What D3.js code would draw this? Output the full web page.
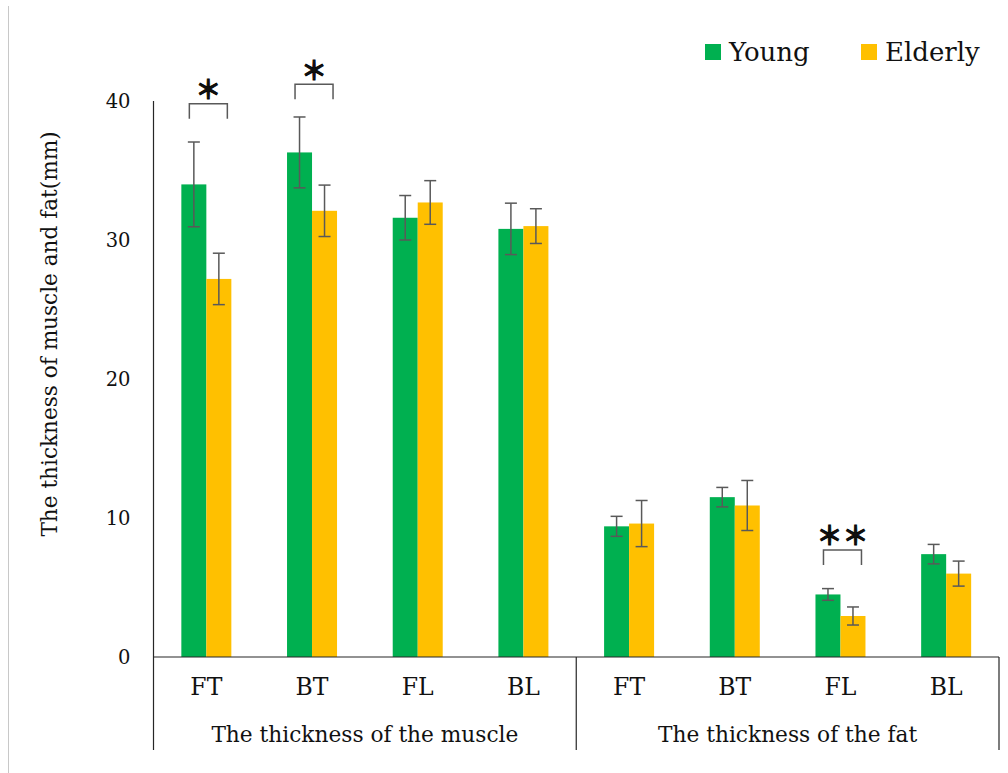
<!DOCTYPE html>
<html>
<head>
<meta charset="utf-8">
<script src="https://cdn.jsdelivr.net/npm/d3@7"></script>
<style>
  html, body { margin: 0; padding: 0; background: #fff; }
  svg { display: block; }
  text { font-family: "DejaVu Serif", "Liberation Serif", serif; fill: #111; }
</style>
</head>
<body>
<svg id="chart" width="1008" height="773"></svg>
<script>
// Measurement sites and the tissue group each belongs to
const sites = ["FT", "BT", "FL", "BL", "FT", "BT", "FL", "BL"];
const groups = ["The thickness of the muscle", "The thickness of the fat"];
const groupOf = [0, 0, 0, 0, 1, 1, 1, 1];

// Mean thickness (mm) and standard deviation per site
const young = [34.0, 36.3, 31.6, 30.8, 9.4, 11.5, 4.5, 7.4];
const youngSD = [3.05, 2.55, 1.6, 1.85, 0.72, 0.7, 0.42, 0.7];
const elderly = [27.2, 32.1, 32.7, 31.0, 9.6, 10.9, 2.95, 6.0];
const elderlySD = [1.85, 1.85, 1.57, 1.25, 1.66, 1.8, 0.65, 0.9];

const seriesNames = ["Young", "Elderly"];
const seriesColors = ["#00B050", "#FFC000"];

const yTicks = [0, 10, 20, 30, 40];

// Significance brackets: site index, bracket level (mm), marker
const sigIndex = [0, 1, 6];
const sigLevel = [39.8, 41.2, 7.7];
const sigMark = ["＊", "＊", "＊＊"];

const svg = d3.select("#chart");
const plotLeft = 153.5, plotRight = 999, plotTop = 101, plotBottom = 657, boxBottom = 750;

const x = d3.scaleBand().domain(d3.range(sites.length)).range([plotLeft, plotRight]).padding(0);
const barW = 25;
const x1 = d3.scaleBand().domain(seriesNames)
  .range([x.bandwidth() / 2 - barW, x.bandwidth() / 2 + barW]).padding(0);
const y = d3.scaleLinear().domain([0, 40]).range([plotBottom, plotTop]);

// faint frame edge on the left
svg.append("line").attr("x1", 8.5).attr("x2", 8.5).attr("y1", 6).attr("y2", 773)
  .attr("stroke", "#c8c8c8").attr("stroke-width", 1);

// bars
const series = [young, elderly];
const sds = [youngSD, elderlySD];
series.forEach((vals, s) => {
  svg.append("g").selectAll("rect").data(vals).join("rect")
    .attr("x", (d, i) => x(i) + x1(seriesNames[s]))
    .attr("width", x1.bandwidth())
    .attr("y", d => y(d))
    .attr("height", d => y(0) - y(d))
    .attr("fill", seriesColors[s]);
});

// error bars
series.forEach((vals, s) => {
  const g = svg.append("g").attr("stroke", "#595959").attr("stroke-width", 1.5);
  vals.forEach((d, i) => {
    const cx = x(i) + x1(seriesNames[s]) + x1.bandwidth() / 2;
    const hi = y(d + sds[s][i]), lo = y(d - sds[s][i]);
    g.append("line").attr("x1", cx).attr("x2", cx).attr("y1", hi).attr("y2", lo);
    g.append("line").attr("x1", cx - 6).attr("x2", cx + 6).attr("y1", hi).attr("y2", hi);
    g.append("line").attr("x1", cx - 6).attr("x2", cx + 6).attr("y1", lo).attr("y2", lo);
  });
});

// axes and category frame
const frame = svg.append("g").attr("stroke", "#262626").attr("stroke-width", 1.2).attr("fill", "none");
frame.append("line").attr("x1", plotLeft).attr("x2", plotLeft).attr("y1", plotTop).attr("y2", boxBottom);
frame.append("line").attr("x1", plotLeft).attr("x2", plotRight).attr("y1", plotBottom).attr("y2", plotBottom);
frame.append("line").attr("x1", x(4)).attr("x2", x(4)).attr("y1", plotBottom).attr("y2", boxBottom);
frame.append("line").attr("x1", plotRight).attr("x2", plotRight).attr("y1", plotBottom).attr("y2", boxBottom);

// y tick labels
const yAxis = d3.axisLeft(y).tickValues(yTicks).tickSize(0).tickPadding(23);
const ya = svg.append("g").attr("transform", `translate(${plotLeft},0)`).call(yAxis);
ya.select(".domain").remove();
ya.selectAll("text").style("font-family", '"DejaVu Serif", serif').style("font-size", "19.5px").attr("fill", "#111");

// y title
svg.append("text")
  .attr("transform", "translate(57,334) rotate(-90)")
  .attr("text-anchor", "middle").style("font-size", "21.6px")
  .text("The thickness of muscle and fat(mm)");

// category labels
svg.append("g").selectAll("text").data(sites).join("text")
  .attr("x", (d, i) => x(i) + x.bandwidth() / 2)
  .attr("y", 695)
  .attr("text-anchor", "middle").style("font-size", "23.5px")
  .text(d => d);

// group labels
svg.append("g").selectAll("text").data(groups).join("text")
  .attr("x", (d, gi) => {
    const idx = d3.range(sites.length).filter(i => groupOf[i] === gi);
    return (x(idx[0]) + x(idx[idx.length - 1]) + x.bandwidth()) / 2;
  })
  .attr("y", 742)
  .attr("text-anchor", "middle").style("font-size", "21.7px")
  .text(d => d);

// significance brackets
const sg = svg.append("g");
sigIndex.forEach((i, k) => {
  const cx = x(i) + x.bandwidth() / 2 + 2;
  const yt = y(sigLevel[k]);
  sg.append("path")
    .attr("d", `M${cx - 19},${yt + 15}V${yt}H${cx + 19}V${yt + 15}`)
    .attr("fill", "none").attr("stroke", "#595959").attr("stroke-width", 1.5);
  sg.append("text")
    .attr("x", cx).attr("y", yt - 16)
    .attr("text-anchor", "middle").attr("dominant-baseline", "central")
    .style("font-family", '"Noto Sans CJK JP", sans-serif')
    .style("font-size", "26px").style("font-weight", "bold")
    .attr("fill", "#000").attr("stroke", "#000").attr("stroke-width", 0.8)
    .text(sigMark[k]);
});

// legend
const legendX = [705, 861];
const lg = svg.append("g");
seriesNames.forEach((name, s) => {
  lg.append("rect").attr("x", legendX[s]).attr("y", 44).attr("width", 16).attr("height", 16)
    .attr("fill", seriesColors[s]);
  lg.append("text").attr("x", legendX[s] + 24).attr("y", 61)
    .style("font-size", "26px").text(name);
});
</script>
</body>
</html>
